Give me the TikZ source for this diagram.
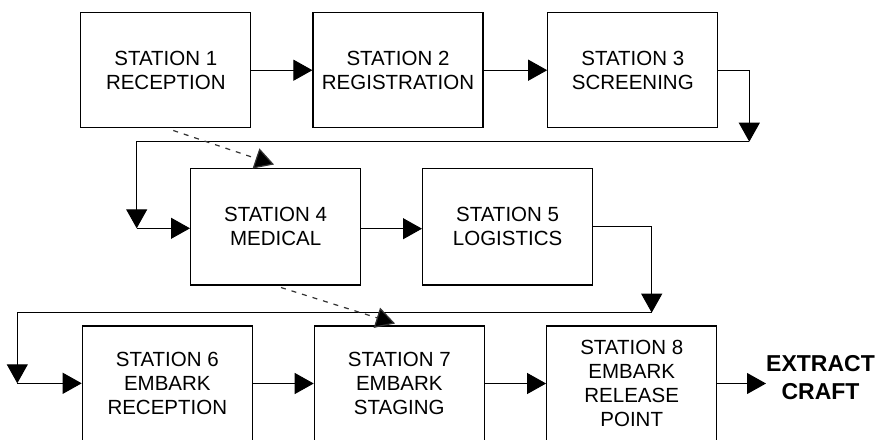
\documentclass[tikz,border=0pt]{standalone}
\usepackage{fontspec}
\setmainfont{Liberation Sans}
\usetikzlibrary{arrows.meta,calc}
\begin{document}
\begin{tikzpicture}[x=1pt,y=-1pt,
  stationbox/.style={draw=black, line width=1.2pt, minimum width=170pt, minimum height=115pt,
    inner sep=0pt, align=center, font=\fontsize{20.5}{23.8}\selectfont},
  flow/.style={line width=1pt, -{Triangle[length=19pt,width=21pt]}},
  dashflow/.style={line width=1.2pt, draw=black!80, dash pattern=on 5pt off 6pt,
    -{Triangle[length=19pt,width=21pt,fill=black]}},
  endlabel/.style={align=center, font=\fontsize{23}{28.3}\selectfont\bfseries, inner sep=0pt}]
\useasboundingbox (0,0) rectangle (880,439);
\fill[white] (0,0) rectangle (880,439);
% boxes
\node[stationbox] (B1) at (165.8,70.2) {STATION 1\\RECEPTION};
\node[stationbox] (B2) at (398,70.2) {STATION 2\\REGISTRATION};
\node[stationbox] (B3) at (632.8,70.2) {STATION 3\\SCREENING};
\node[stationbox, minimum height=116.7pt] (B4) at (275.6,226.7) {STATION 4\\MEDICAL};
\node[stationbox, minimum height=116.7pt] (B5) at (507.6,226.7) {STATION 5\\LOGISTICS};
\node[stationbox] (B6) at (167.3,383.5) {STATION 6\\EMBARK\\RECEPTION};
\node[stationbox] (B7) at (399.3,383.5) {STATION 7\\EMBARK\\STAGING};
\node[stationbox] (B8) at (631.7,383.5) {STATION 8\\EMBARK\\RELEASE\\POINT};
\node[endlabel] (EX) at (820.5,377.5) {EXTRACT\\CRAFT};
% helper coordinates
\coordinate (c1) at (749.3,141.7);
\coordinate (c2) at (136.7,141.7);
\coordinate (c3) at (136.7,228.3);
\coordinate (c4) at (651.7,312.7);
\coordinate (c5) at (17.3,312.7);
\coordinate (c6) at (17.3,383.3);
\coordinate (d1s) at (173.3,130.5);
\coordinate (d1e) at (274,164.5);
\coordinate (d2s) at (281,287.5);
\coordinate (d2e) at (395,323.5);
% connectors row 1
\draw[flow] (B1.east) -- (B2.west);
\draw[flow] (B2.east) -- (B3.west);
\draw[flow] (B3.east) -| (c1);
\draw[flow] (c1) -- (c2) -- (c3);
\draw[flow] (c3) -- (c3 -| B4.west);
% row 2
\draw[flow] ($(B4.east)+(0,2)$) -- ($(B5.west)+(0,2)$);
\draw[flow] (B5.east) -| (c4);
\draw[flow] (c4) -- (c5) -- (c6);
\draw[flow] (c6) -- (c6 -| B6.west);
% row 3
\draw[flow] (B6.east) -- (B7.west);
\draw[flow] (B7.east) -- (B8.west);
\draw[flow] (B8.east) -- (B8.east -| EX.west);
% dashed
\draw[dashflow] (d1s) -- (d1e);
\draw[dashflow] (d2s) -- (d2e);
\end{tikzpicture}
\end{document}
